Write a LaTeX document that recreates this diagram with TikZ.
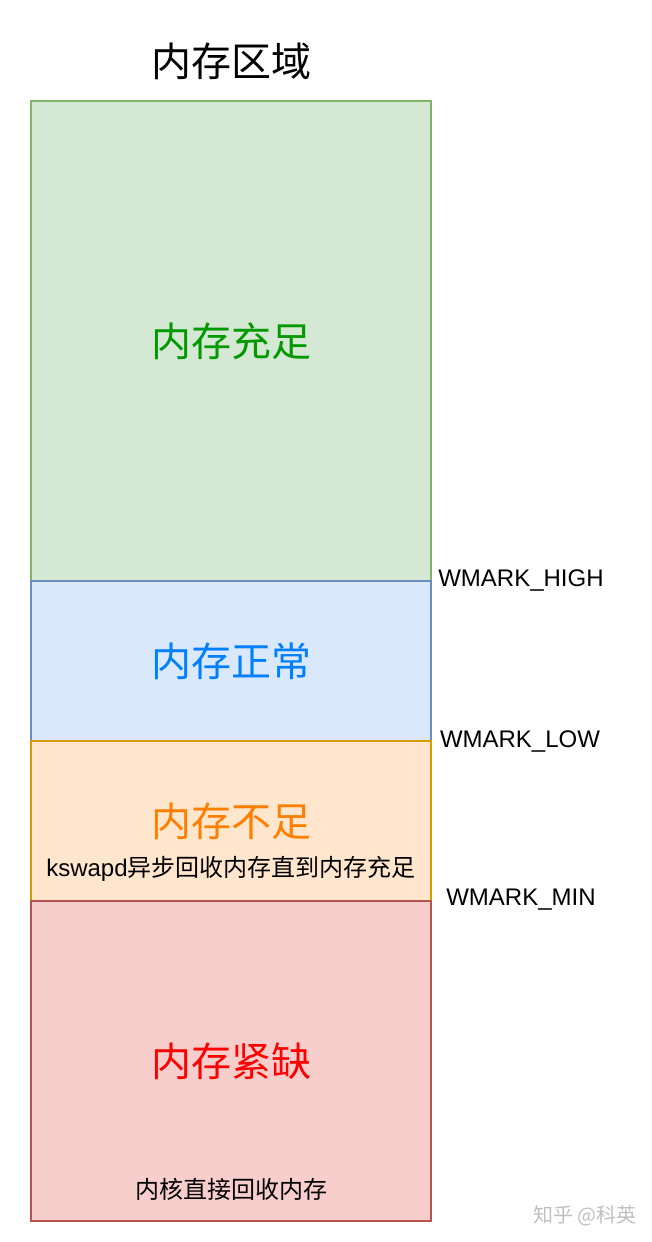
\documentclass[tikz,border=0pt]{standalone}
\usepackage{fontspec}
\setmainfont{Liberation Sans}
\newfontfamily\cjk{Noto Sans CJK SC}
\usetikzlibrary{positioning}

\definecolor{greenfill}{HTML}{D5E8D4}\definecolor{greenline}{HTML}{82B366}
\definecolor{bluefill}{HTML}{DAE8FC}\definecolor{blueline}{HTML}{6C8EBF}
\definecolor{orangefill}{HTML}{FFE6CC}\definecolor{orangeline}{HTML}{D79B00}
\definecolor{redfill}{HTML}{F8CECC}\definecolor{redline}{HTML}{B85450}

\begin{document}
\begin{tikzpicture}[x=1pt, y=-1pt, node distance=0pt,
zone/.style={draw, line width=1.5pt, minimum width=400pt, inner sep=0pt, outer sep=0pt,
  font=\cjk\fontsize{40}{46}\selectfont},
wmark/.style={font=\fontsize{24}{28}\selectfont},
note/.style={font=\cjk\fontsize{24}{28}\selectfont}]
\useasboundingbox (0,0) rectangle (652,1242);
\node [font=\cjk\fontsize{40}{46}\selectfont] (title) at (231,61) {内存区域};
\node [zone, draw=greenline, fill=greenfill, text={rgb,255:red,0;green,153;blue,0},
  minimum height=480pt] (z_full) at (231,341) {内存充足};
\node [zone, draw=blueline, fill=bluefill, text={rgb,255:red,0;green,127;blue,255},
  minimum height=160pt] (z_ok) [below = of z_full] {内存正常};
\node [zone, draw=orangeline, fill=orangefill, text={rgb,255:red,255;green,128;blue,0},
  minimum height=160pt] (z_low) [below = of z_ok] {};
\node [zone, draw=redline, fill=redfill, text=red,
  minimum height=320pt] (z_min) [below = of z_low] {内存紧缺};
\node [font=\cjk\fontsize{40}{46}\selectfont, text={rgb,255:red,255;green,128;blue,0}]
  (low_t) at (231,821) {内存不足};
\node [note] (low_n) at (231,869) {{\fontsize{24}{28}\selectfont\rmfamily kswapd}异步回收内存直到内存充足};
\node [note] (min_n) at (231,1189) {内核直接回收内存};
\node [wmark] (w_high) at (521,580) {WMARK\_HIGH};
\node [wmark] (w_low) at (520,741) {WMARK\_LOW};
\node [wmark] (w_min) at (521,900) {WMARK\_MIN};
\node [font=\cjk\fontsize{20}{24}\selectfont, text=black!25] (sign) at (585,1216) {知乎 @科英};
\end{tikzpicture}
\end{document}
